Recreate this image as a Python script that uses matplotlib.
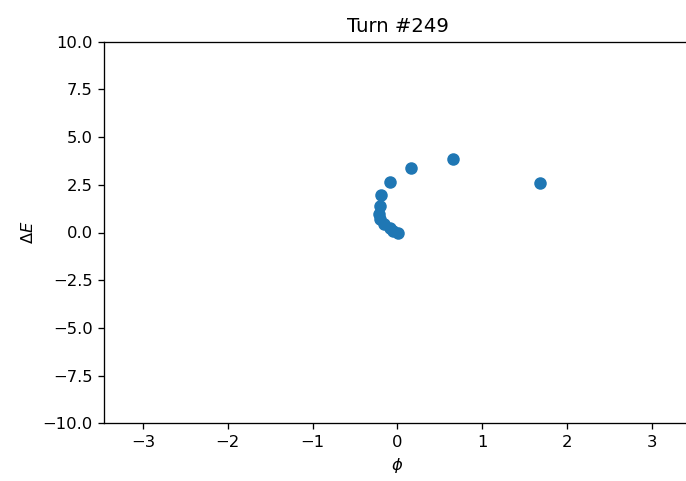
import numpy as np
import matplotlib
matplotlib.use('Agg')
import matplotlib.pyplot as plt

phi = [1.68, 0.66, 0.163, -0.085, -0.19, -0.21, -0.22, -0.20, -0.155, -0.09, -0.05, 0.01]
dE = [2.58, 3.85, 3.40, 2.66, 1.97, 1.39, 0.97, 0.71, 0.47, 0.26, 0.10, 0.0]
turn = 249

dpi = 118
fig = plt.figure(figsize=(686 / dpi, 481 / dpi), dpi=dpi)
ax = fig.add_axes([104.3 / 686, 1 - 423.3 / 481, (690.6 - 104.3) / 686, (423.3 - 41.7) / 481])
ax.scatter(phi, dE, s=44)
ax.set_xlim(-1.1 * np.pi, 1.1 * np.pi)
ax.set_ylim(-10, 10)
ax.set_xlabel(r'$\phi$')
ax.set_ylabel(r'$\Delta E$')
ax.set_title('Turn #%d' % turn)

fig.savefig('out.png', dpi=dpi)
